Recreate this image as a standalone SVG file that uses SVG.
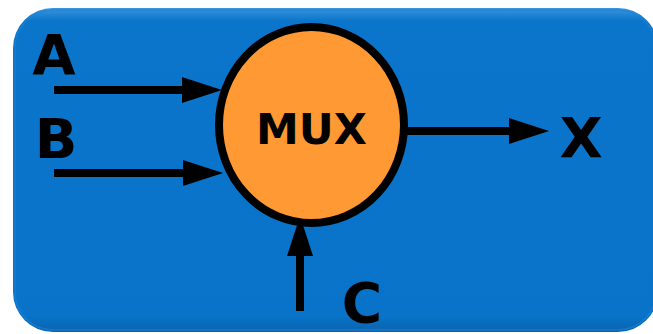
<svg xmlns="http://www.w3.org/2000/svg" width="653" height="334" viewBox="0 0 653 334">
  <defs>
    <linearGradient id="panelEdge" x1="0" y1="0" x2="0" y2="1">
      <stop offset="0" stop-color="#3a95de"/>
      <stop offset="0.04" stop-color="#0a75ca"/>
      <stop offset="0.95" stop-color="#0873c8"/>
      <stop offset="1" stop-color="#0a64ae"/>
    </linearGradient>
    <!-- arrowhead starts where the shaft ends -->
    <marker id="head" viewBox="0 0 40 26" refX="1" refY="13" markerWidth="40" markerHeight="26" markerUnits="userSpaceOnUse" orient="auto">
      <path d="M0,0 L40,13 L0,26 Z" fill="#000"/>
    </marker>
    <style>
      .wire { stroke: #000; stroke-width: 8; fill: none; marker-end: url(#head); }
      .lbl { font-family: "DejaVu Sans", Verdana, sans-serif; font-weight: bold; fill: #000; }
    </style>
  </defs>

  <!-- background panel -->
  <g id="panel">
    <rect x="13" y="8" width="645" height="324" rx="40" ry="40" fill="url(#panelEdge)"/>
    <rect x="15" y="10" width="641" height="320" rx="38" ry="38" fill="none" stroke="#1f82d4" stroke-width="1.5" opacity="0.6"/>
  </g>

  <!-- connectors -->
  <g id="connectors">
    <line class="wire" x1="54" y1="90" x2="183" y2="90"/>
    <line class="wire" x1="54" y1="173" x2="184" y2="173"/>
    <line class="wire" x1="406" y1="131" x2="510" y2="131"/>
    <line class="wire" x1="300" y1="311" x2="300" y2="255"/>
  </g>

  <!-- multiplexer node -->
  <g id="mux">
    <ellipse cx="311.5" cy="125" rx="92.5" ry="98" fill="#ff9933" stroke="#000" stroke-width="8"/>
    <text class="lbl" x="311.5" y="144" font-size="43" text-anchor="middle">MUX</text>
  </g>

  <!-- signal labels -->
  <g id="label-a"><text class="lbl" x="54" y="74" font-size="56" text-anchor="middle">A</text></g>
  <g id="label-b"><text class="lbl" x="56" y="158" font-size="56" text-anchor="middle">B</text></g>
  <g id="label-x"><text class="lbl" x="581" y="157" font-size="56" text-anchor="middle">X</text></g>
  <g id="label-c"><text class="lbl" x="362" y="322" font-size="55" text-anchor="middle">C</text></g>
</svg>
